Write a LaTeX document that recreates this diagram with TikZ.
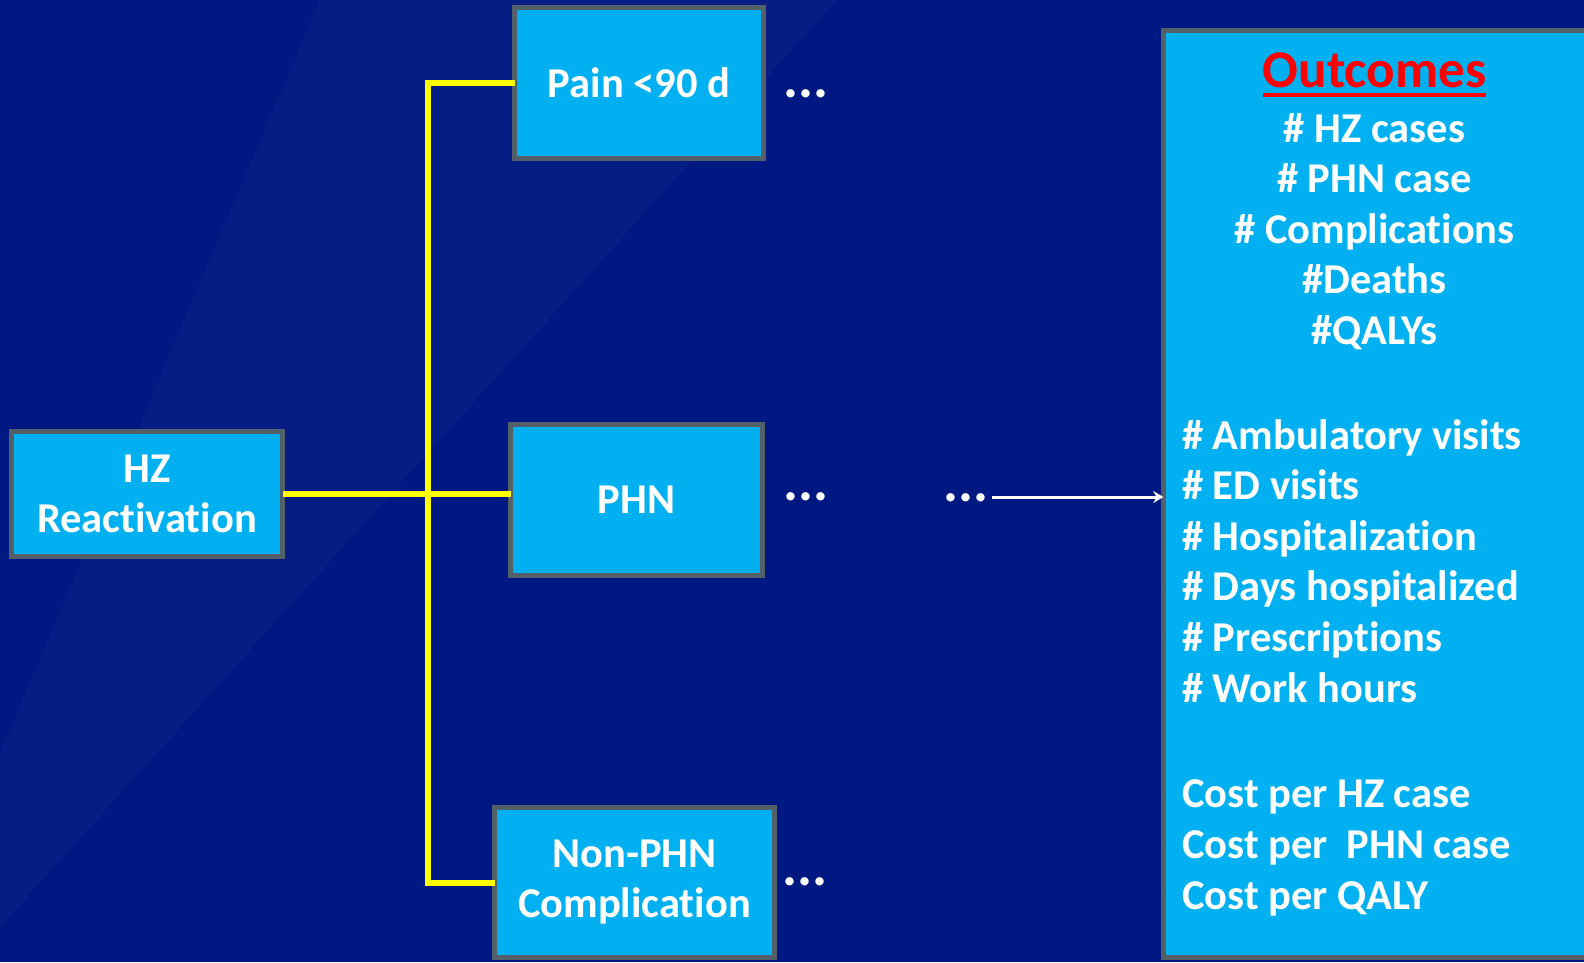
\documentclass[tikz,border=0pt]{standalone}
\usepackage{fontspec}
\setmainfont{Carlito}[Ligatures=NoCommon]
\usetikzlibrary{arrows.meta}
\definecolor{bgblue}{RGB}{0,24,130}
\definecolor{boxfill}{RGB}{0,176,240}
\definecolor{boxline}{RGB}{84,96,104}
\definecolor{branch}{RGB}{255,255,0}
\definecolor{titlered}{RGB}{255,0,0}
\newcommand{\threedots}{.\kern0.2pt.\kern0.2pt.}
\begin{document}
\begin{tikzpicture}[x=1pt,y=-1pt,
  box/.style={draw=boxline, fill=boxfill, line width=5pt, inner sep=0pt, outer sep=0pt,
    text=white, font=\fontsize{42.5}{50}\selectfont\bfseries, align=center},
  branchline/.style={draw=branch, line width=6pt, line join=miter},
  dots/.style={text=white, font=\fontsize{56}{60}\selectfont\bfseries, inner sep=0pt, anchor=base},
  item/.style={text=white, font=\fontsize{42.5}{50}\selectfont\bfseries, inner sep=0pt},
  ctr/.style={item, anchor=base},
  lft/.style={item, anchor=base west},
]
\useasboundingbox (0,0) rectangle (1584,962);
\clip (0,0) rectangle (1584,962);

% background with a faint lighter diagonal band
\fill[bgblue] (0,0) rectangle (1584,962);
\fill[white, opacity=0.022] (320,0) -- (837,0) -- (0,927) -- (0,753) -- cycle;

% decision boxes
\node[box, minimum width=271, minimum height=125] (hz) at (147,494) {HZ\\Reactivation};
\node[box, minimum width=249, minimum height=151] (pain) at (639,83) {Pain <90 d};
\node[box, minimum width=252, minimum height=151] (phn) at (636.5,500) {PHN};
\node[box, minimum width=280, minimum height=150] (npc) at (634.5,882.5) {Non-PHN\\Complication};

% branch connectors
\coordinate (trunk) at (428,495);
\draw[branchline] (pain.west) -- (pain.west -| trunk) -- (npc.west -| trunk) -- (npc.west);
\draw[branchline] (hz.east) -- (phn.west |- hz.east);

% continuation marks
\node[dots] (d1) at (806,97) {\threedots};
\node[dots] (d2) at (806,500) {\threedots};
\node[dots] (d3) at (966,501) {\threedots};
\node[dots] (d4) at (805,885) {\threedots};

% outcomes panel
\node[box, minimum width=437, minimum height=927] (outc) at (1381.75,494) {};
\node[ctr, text=titlered, font=\fontsize{53}{60}\selectfont\bfseries] (ttl) at (1374.5,87) {Outcomes};
\draw[titlered, line width=3.5pt] ([yshift=-8pt]ttl.base west) -- ([yshift=-8pt]ttl.base east);

\node[ctr] (o1) at (1374.5,142) {\# HZ cases};
\node[ctr] (o2) at (1374.5,192.5) {\# PHN case};
\node[ctr] (o3) at (1374.5,243) {\# Complications};
\node[ctr] (o4) at (1374.5,293.5) {\#Deaths};
\node[ctr] (o5) at (1374.5,344) {\#QALYs};

\node[lft] (u1) at (1182,449) {\# Ambulatory visits};
\node[lft] (u2) at (1182,499.6) {\# ED visits};
\node[lft] (u3) at (1182,550.2) {\# Hospitalization};
\node[lft] (u4) at (1182,600.8) {\# Days hospitalized};
\node[lft] (u5) at (1182,651.4) {\# Prescriptions};
\node[lft] (u6) at (1182,702) {\# Work hours};

\node[lft] (c1) at (1182,807) {Cost per HZ case};
\node[lft] (c2) at (1182,858) {Cost per\ \ PHN case};
\node[lft] (c3) at (1182,909) {Cost per QALY};

% link from the last continuation mark to the outcomes panel
\coordinate (a0) at ([xshift=3pt,yshift=4pt]d3.base east);
\draw[white, line width=3pt, -{Stealth[length=10pt,width=12pt]}] (a0) -- (a0 -| outc.west);
\end{tikzpicture}
\end{document}
